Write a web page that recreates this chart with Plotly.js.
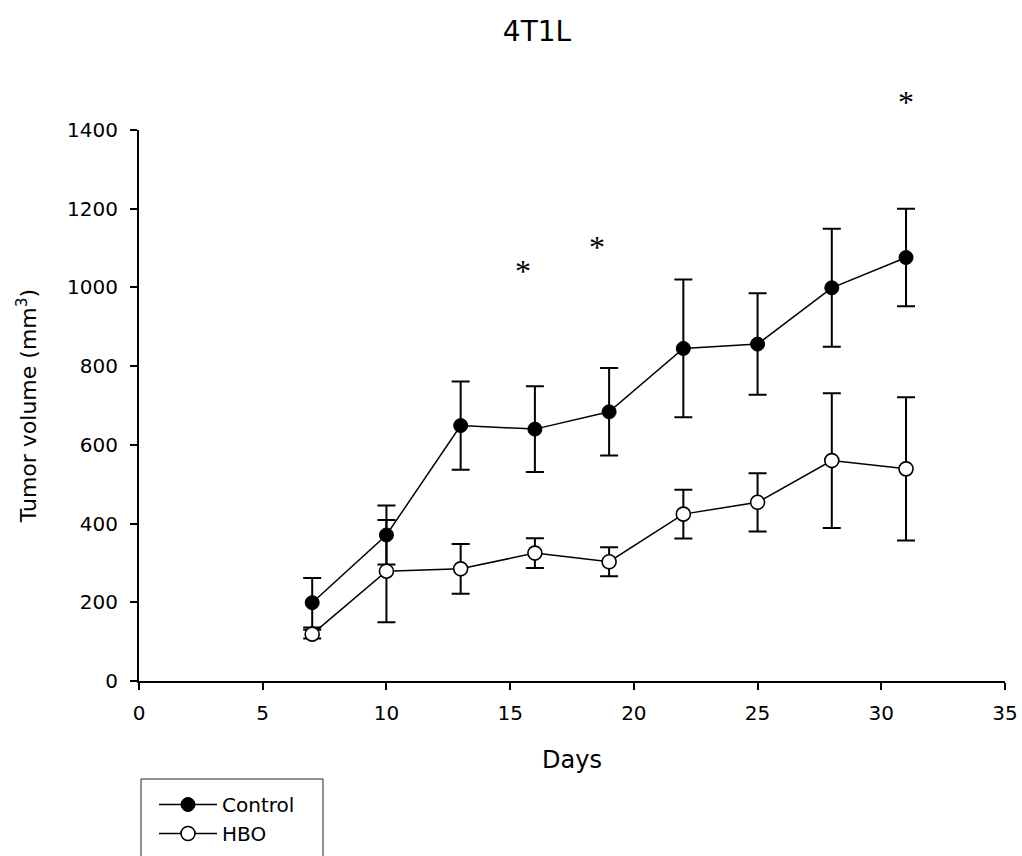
<!DOCTYPE html>
<html>
<head>
<meta charset="utf-8">
<script src="https://cdn.plot.ly/plotly-3.0.1.min.js"></script>
<style>html,body{margin:0;padding:0;background:#fff;}#chart{width:1022px;height:856px;}</style>
</head>
<body>
<div id="chart"></div>
<script>
const days = [7, 10, 13, 16, 19, 22, 25, 28, 31];
const controlMean = [199, 371, 649, 640, 684, 845, 856, 999, 1076];
const controlErr  = [63, 75, 112, 109, 111, 175, 129, 150, 124];
const hboMean = [119, 279, 285, 325, 303, 424, 454, 560, 539];
const hboErr  = [11, 130, 63, 38, 37, 62, 74, 171, 182];
const starDays = [15.5, 18.5, 31];
const starValues = [1050, 1110, 1480];
const xTicks = [0, 5, 10, 15, 20, 25, 30, 35];
const yTicks = [0, 200, 400, 600, 800, 1000, 1200, 1400];
const yMax = 1400, xMax = 35;

const font = "DejaVu Sans, Liberation Sans, Arial, sans-serif";
const L = 139, R = 17, T = 130, B = 175, W = 1022, H = 856;
const pw = W - L - R, ph = H - T - B;
const px = v => (v - L) / pw;
const py = v => (H - B - v) / ph;

const errStyle = {type: 'data', visible: true, color: '#000', thickness: 2, width: 9};

const traces = [
  {
    x: days, y: controlMean, name: 'Control', type: 'scatter', mode: 'lines+markers',
    line: {color: '#000', width: 1.5},
    marker: {symbol: 'circle', size: 14, color: '#000', line: {color: '#000', width: 1}},
    error_y: Object.assign({array: controlErr}, errStyle)
  },
  {
    x: days, y: hboMean, name: 'HBO', type: 'scatter', mode: 'lines+markers',
    line: {color: '#000', width: 1.5},
    marker: {symbol: 'circle', size: 14, color: '#fff', line: {color: '#000', width: 1.6}},
    error_y: Object.assign({array: hboErr}, errStyle)
  }
];

// significance stars: x on the data axis, y as a fraction of the y-axis domain (value / yMax)
const annotations = starDays.map((d, i) => ({
  x: d, xref: 'x', y: starValues[i] / yMax, yref: 'y domain',
  text: '*', showarrow: false, yanchor: 'middle', xanchor: 'center', yshift: -3,
  font: {family: 'Liberation Serif, Times New Roman, serif', size: 32, color: '#000'}
}));

const layout = {
  width: W, height: H,
  paper_bgcolor: '#fff', plot_bgcolor: '#fff',
  margin: {l: L, r: R, t: T, b: B, autoexpand: false},
  font: {family: font, color: '#000', size: 20},
  title: {text: '4T1L', x: 537 / W, xanchor: 'center', xref: 'container', y: 1 - 31 / H, yanchor: 'middle', yref: 'container',
          font: {family: font, size: 28, color: '#000'}},
  showlegend: true,
  legend: {
    x: px(154), xanchor: 'left', y: py(785), yanchor: 'top',
    borderwidth: 0, bgcolor: 'rgba(0,0,0,0)',
    itemwidth: 58,
    font: {family: font, size: 20, color: '#000'},
    tracegroupgap: 0, itemsizing: 'trace'
  },
  shapes: [
    {type: 'rect', xref: 'paper', yref: 'paper', x0: px(141), x1: px(323), y0: py(779), y1: py(880),
     line: {color: '#222', width: 1}, fillcolor: 'rgba(0,0,0,0)', layer: 'below'}
  ],
  annotations: annotations,
  xaxis: {
    range: [0, xMax], tickvals: xTicks,
    showgrid: false, zeroline: false, showline: true, linecolor: '#000', linewidth: 2,
    ticks: 'outside', ticklen: 7, tickwidth: 2, tickcolor: '#000', ticklabelstandoff: 6,
    tickfont: {family: font, size: 20, color: '#000'},
    title: {text: 'Days', font: {family: font, size: 24, color: '#000'}, standoff: 27}
  },
  yaxis: {
    range: [0, yMax], tickvals: yTicks,
    showgrid: false, zeroline: false, showline: true, linecolor: '#000', linewidth: 2,
    ticks: 'outside', ticklen: 7, tickwidth: 2, tickcolor: '#000', ticklabelstandoff: 8,
    tickfont: {family: font, size: 20, color: '#000'},
    title: {text: 'Tumor volume (mm<sup>3</sup>)', font: {family: font, size: 22, color: '#000'}, standoff: 24}
  }
};

Plotly.newPlot('chart', traces, layout, {displayModeBar: false, staticPlot: true});
</script>
</body>
</html>
